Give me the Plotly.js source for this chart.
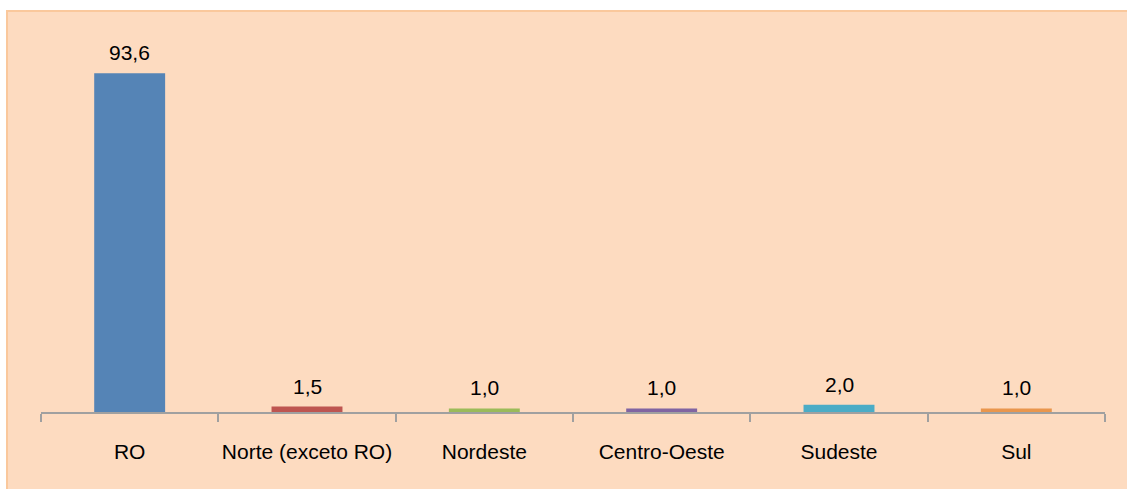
<!DOCTYPE html>
<html>
<head>
<meta charset="utf-8">
<script src="https://cdn.plot.ly/plotly-3.0.1.min.js"></script>
<style>
html,body{margin:0;padding:0;background:#ffffff;}
#chart{position:absolute;left:6px;top:10px;width:1125px;height:483px;border-left:2px solid #FAC89C;border-top:2px solid #FAC89C;box-sizing:border-box;}
</style>
</head>
<body>
<div id="chart"></div>
<script>
const categories = ["RO", "Norte (exceto RO)", "Nordeste", "Centro-Oeste", "Sudeste", "Sul"];
const values = [93.6, 1.5, 1.0, 1.0, 2.0, 1.0];
const barColors = ["#5584B6", "#BE5550", "#9BBB59", "#8064A2", "#4BACC6", "#E9964D"];

const FONT = "Liberation Sans, Arial, sans-serif";

const trace = {
  type: "bar",
  x: categories,
  y: values,
  marker: {color: barColors},
  hoverinfo: "skip"
};

const annotations = categories.map((c, i) => ({
  x: c,
  y: values[i],
  xref: "x",
  yref: "y",
  text: values[i].toFixed(1).replace(".", ","),
  showarrow: false,
  yanchor: "bottom",
  yshift: 7,
  font: {family: FONT, size: 21, color: "#000"}
}));

const layout = {
  width: 1123,
  height: 481,
  margin: {l: 33, r: 26, t: 38, b: 81},
  paper_bgcolor: "#FDDBC0",
  plot_bgcolor: "#FDDBC0",
  separators: ",.",
  bargap: 0.6,
  showlegend: false,
  annotations: annotations,
  xaxis: {
    type: "category",
    tickson: "boundaries",
    ticks: "outside",
    ticklen: 8,
    tickwidth: 2,
    tickcolor: "#A0A0A0",
    showline: true,
    linecolor: "#A0A0A0",
    linewidth: 2,
    showgrid: false,
    tickangle: 0,
    ticklabelstandoff: 20,
    tickfont: {family: FONT, size: 21, color: "#000"}
  },
  yaxis: {
    range: [0, 100],
    visible: false,
    showgrid: false,
    zeroline: false
  }
};

Plotly.newPlot("chart", [trace], layout, {displayModeBar: false, staticPlot: true});
</script>
</body>
</html>
